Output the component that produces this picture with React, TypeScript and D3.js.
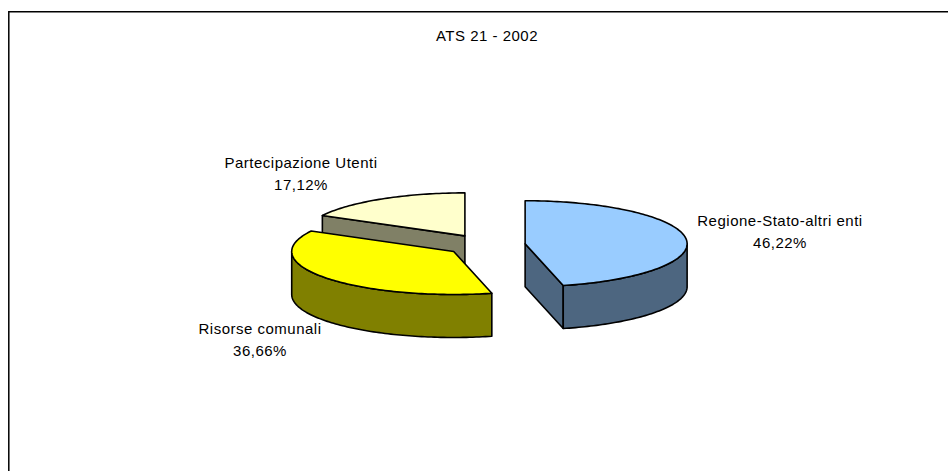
import React from "react";
import * as d3 from "d3";

const W = 948;
const H = 471;

const categories = ["Regione-Stato-altri enti", "Risorse comunali", "Partecipazione Utenti"];
const shares = [46.22, 36.66, 17.12];
const shareLabels = ["46,22%", "36,66%", "17,12%"];
const topColors = ["#99CCFF", "#FFFF00", "#FFFFCC"];
const wallColors = ["#4D6680", "#808000", "#808066"];
const title = "ATS 21 - 2002";

const labelX = [780, 260, 301];
const labelY = [226, 334, 168];

const cx = 485.4;
const cy = 245;
const rx = 162;
const ry = 43;
const depth = 43;
const explode = 40 / 162;
const STROKE = "#000";

const rScale = d3.scaleLinear().domain([0, 1]).range([0, 1]);

function point(c: [number, number], a: number, r = 1, dy = 0): [number, number] {
  const rr = rScale(r);
  return [c[0] + rr * rx * Math.sin(a), c[1] - rr * ry * Math.cos(a) + dy];
}

function arcPoints(c: [number, number], a0: number, a1: number, dy = 0): [number, number][] {
  const n = Math.max(2, Math.ceil(Math.abs(a1 - a0) / 0.02));
  return d3.range(n + 1).map((i) => point(c, a0 + ((a1 - a0) * i) / n, 1, dy));
}

const line = d3.line();

export default function App() {
  const arcs = d3
    .pie<number>()
    .sort(null)
    .startAngle(0)
    .endAngle(2 * Math.PI)(shares);

  // back slices first, so that the nearer ones cover them
  const order = [2, 1, 0];
  return (
    <svg
      width={W}
      height={H}
      style={{ position: "absolute", left: 0, top: 0, background: "#fff", display: "block" }}
      fontFamily="'Liberation Sans', Arial, sans-serif"
      fontSize={15}
      letterSpacing={0.5}
      fill="#000"
    >
      <path d={`M8.8,${H}V11.8H${W}`} fill="none" stroke="#000" strokeWidth={1.5} />
      <text x={487} y={41} textAnchor="middle">{title}</text>
      {order.map((i) => {
        const d = arcs[i];
        const mid = (d.startAngle + d.endAngle) / 2;
        const c = point([cx, cy], mid, explode);
        const top = [
          c,
          ...arcPoints(c, d.startAngle, d.endAngle),
        ] as [number, number][];
        const walls: [number, number][][] = [];
        // radial wall at the start edge, when it faces the viewer
        if (Math.cos(d.startAngle - Math.PI / 2) < -1e-6) {
          const e = point(c, d.startAngle);
          walls.push([c, e, [e[0], e[1] + depth], [c[0], c[1] + depth]]);
        }
        // radial wall at the end edge, when it faces the viewer
        if (Math.cos(d.endAngle + Math.PI / 2) < -1e-6) {
          const e = point(c, d.endAngle);
          walls.push([c, e, [e[0], e[1] + depth], [c[0], c[1] + depth]]);
        }
        // outer curved wall: only the front half of the ellipse shows
        const a0 = Math.max(d.startAngle, Math.PI / 2);
        const a1 = Math.min(d.endAngle, (3 * Math.PI) / 2);
        if (a1 > a0) {
          walls.push([...arcPoints(c, a0, a1), ...arcPoints(c, a1, a0, depth)]);
        }
        return (
          <g key={categories[i]} stroke={STROKE} strokeWidth={1.6} strokeLinejoin="round">
            {walls.map((w, k) => (
              <path key={k} d={line(w) + "Z"} fill={wallColors[i]} />
            ))}
            <path d={line(top) + "Z"} fill={topColors[i]} />
          </g>
        );
      })}
      {categories.map((name, i) => (
        <text key={name} textAnchor="middle" x={labelX[i]} y={labelY[i]}>
          <tspan x={labelX[i]}>{name}</tspan>
          <tspan x={labelX[i]} dy={22}>{shareLabels[i]}</tspan>
        </text>
      ))}
    </svg>
  );
}
